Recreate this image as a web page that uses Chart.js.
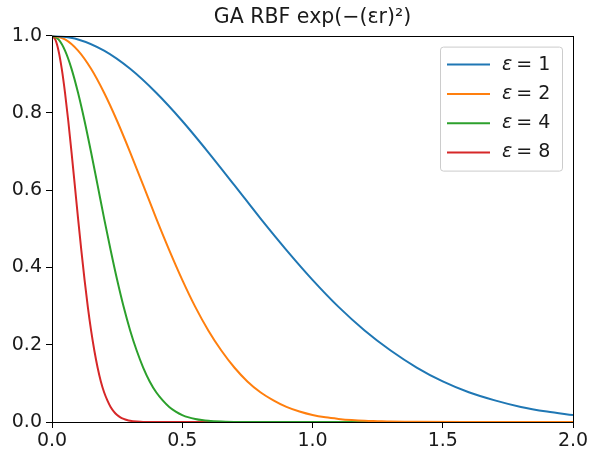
<!DOCTYPE html>
<html>
<head>
<meta charset="utf-8">
<script src="https://cdn.jsdelivr.net/npm/chart.js@4/dist/chart.umd.min.js"></script>
<style>
html,body{margin:0;padding:0;background:#fff;}
#wrap{width:591px;height:457px;}
</style>
</head>
<body>
<div id="wrap"><canvas id="c" width="591" height="457"></canvas></div>
<script>
// Data
const seriesLabels = ['ε = 1', 'ε = 2', 'ε = 4', 'ε = 8'];
const seriesColors = ['#1f77b4', '#ff7f0e', '#2ca02c', '#d62728'];

const r1 = [0,0.1,0.2,0.3,0.4,0.5,0.6,0.7,0.8,0.9,1.0,1.1,1.2,1.3,1.4,1.5,1.6,1.7,1.8,1.9,2.0];
const v1 = [1,0.990,0.961,0.914,0.852,0.779,0.698,0.613,0.527,0.445,0.368,0.298,0.237,0.185,0.141,0.105,0.077,0.056,0.039,0.027,0.018];

const r2 = [0,0.05,0.1,0.15,0.2,0.25,0.3,0.35,0.4,0.45,0.5,0.55,0.6,0.65,0.7,0.75,0.8,0.85,0.9,0.95,1.0,1.05,1.1,1.15,1.2,1.25,1.3,1.4,1.6,2.0];
const v2 = [1,0.990,0.961,0.914,0.852,0.779,0.698,0.613,0.527,0.445,0.368,0.298,0.237,0.185,0.141,0.105,0.077,0.056,0.039,0.027,0.018,0.012,0.008,0.005,0.003,0.002,0.001,0.0004,0,0];

const r4 = [0,0.025,0.05,0.075,0.1,0.125,0.15,0.175,0.2,0.225,0.25,0.275,0.3,0.325,0.35,0.375,0.4,0.425,0.45,0.475,0.5,0.525,0.55,0.575,0.6,0.65,0.7,0.8,2.0];
const v4 = [1,0.990,0.961,0.914,0.852,0.779,0.698,0.613,0.527,0.445,0.368,0.298,0.237,0.185,0.141,0.105,0.077,0.056,0.039,0.027,0.018,0.012,0.008,0.005,0.003,0.001,0,0,0];

const r8 = [0,0.0125,0.025,0.0375,0.05,0.0625,0.075,0.0875,0.1,0.1125,0.125,0.1375,0.15,0.1625,0.175,0.1875,0.2,0.2125,0.225,0.2375,0.25,0.2625,0.275,0.2875,0.3,0.325,0.35,0.4,2.0];
const v8 = [1,0.990,0.961,0.914,0.852,0.779,0.698,0.613,0.527,0.445,0.368,0.298,0.237,0.185,0.141,0.105,0.077,0.056,0.039,0.027,0.018,0.012,0.008,0.005,0.003,0.001,0,0,0];

const xTicks = [0, 0.5, 1.0, 1.5, 2.0];
const yTicks = [0, 0.2, 0.4, 0.6, 0.8, 1.0];
const titleText = 'GA RBF exp(−(εr)²)';

const rs = [r1, r2, r4, r8];
const vs = [v1, v2, v4, v8];

const FONT = "'DejaVu Sans', sans-serif";

const datasets = seriesLabels.map((lab, i) => ({
  label: lab,
  data: rs[i].map((x, j) => ({x: x, y: vs[i][j]})),
  borderColor: seriesColors[i],
  backgroundColor: seriesColors[i],
  borderWidth: 2,
  pointRadius: 0,
  fill: false,
  cubicInterpolationMode: 'monotone'
}));

const framePlugin = {
  id: 'frame',
  afterDraw(chart) {
    const ctx = chart.ctx;
    const a = chart.chartArea;
    ctx.save();
    ctx.strokeStyle = '#000';
    ctx.lineWidth = 1;
    ctx.strokeRect(Math.round(a.left) + 0.5, Math.round(a.top) + 0.5,
                   Math.round(a.right - a.left), Math.round(a.bottom - a.top));
    // legend
    const bx = a.right - 133, by = a.top + 11, bw = 122, bh = 124;
    ctx.fillStyle = 'rgba(255,255,255,0.8)';
    ctx.strokeStyle = '#cccccc';
    ctx.beginPath();
    ctx.roundRect(bx + 0.5, by + 0.5, bw, bh, 3);
    ctx.fill();
    ctx.stroke();
    chart.data.datasets.forEach((ds, i) => {
      const y = by + 18 + i * 29.3;
      ctx.strokeStyle = ds.borderColor;
      ctx.lineWidth = 2;
      ctx.beginPath();
      ctx.moveTo(bx + 7, y);
      ctx.lineTo(bx + 50, y);
      ctx.stroke();
      ctx.fillStyle = '#1a1a1a';
      ctx.textBaseline = 'middle';
      ctx.textAlign = 'left';
      const parts = ds.label.split(' ');
      ctx.font = 'italic 19px ' + FONT;
      ctx.fillText(parts[0], bx + 62, y);
      const w = ctx.measureText(parts[0]).width;
      ctx.font = '19px ' + FONT;
      ctx.fillText(parts.slice(1).join(' '), bx + 66 + w, y);
    });
    ctx.restore();
  }
};

new Chart(document.getElementById('c'), {
  type: 'line',
  data: { datasets: datasets },
  options: {
    responsive: false,
    animation: false,
    devicePixelRatio: 1,
    layout: { padding: { left: 0, right: 18, top: 0, bottom: 0 } },
    plugins: {
      legend: { display: false },
      tooltip: { enabled: false },
      title: {
        display: true,
        text: titleText,
        fullSize: false,
        color: '#1a1a1a',
        font: { family: FONT, size: 20.5, weight: 'normal' },
        padding: { top: 5, bottom: 6 }
      }
    },
    scales: {
      x: {
        type: 'linear',
        min: 0, max: 2,
        afterFit(s) { s.height = 35; },
        afterBuildTicks(s) { s.ticks = xTicks.map(v => ({value: v})); },
        ticks: {
          color: '#1a1a1a',
          font: { family: FONT, size: 19 },
          padding: 2,
          maxRotation: 0,
          callback: v => Number(v).toFixed(1)
        },
        grid: { display: true, drawOnChartArea: false, drawTicks: true, tickLength: 6, color: '#000', tickColor: '#000' },
        border: { display: true, color: '#000', width: 1 }
      },
      y: {
        type: 'linear',
        min: 0, max: 1,
        afterFit(s) { s.width = 52; },
        afterBuildTicks(s) { s.ticks = yTicks.map(v => ({value: v})); },
        ticks: {
          color: '#1a1a1a',
          font: { family: FONT, size: 19 },
          padding: 4,
          callback: v => Number(v).toFixed(1)
        },
        grid: { display: true, drawOnChartArea: false, drawTicks: true, tickLength: 6, color: '#000', tickColor: '#000' },
        border: { display: true, color: '#000', width: 1 }
      }
    }
  },
  plugins: [framePlugin]
});
</script>
</body>
</html>
